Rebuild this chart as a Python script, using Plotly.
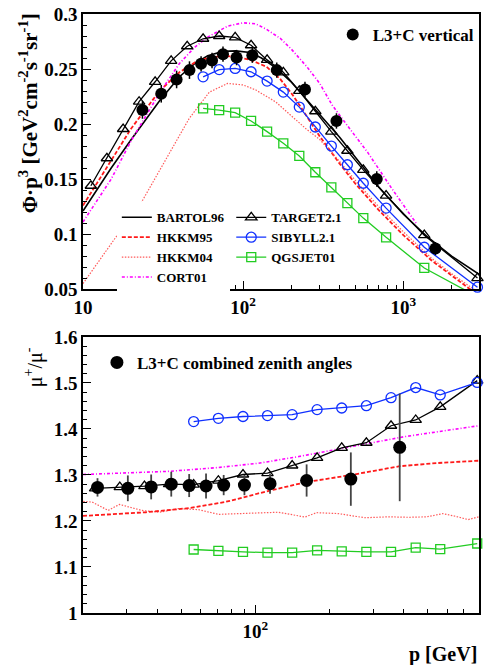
import numpy as np
import plotly.graph_objects as go

# ---------------- data : top panel (flux * p^3) ----------------
p_vert = [23.5, 30.8, 38.4, 46.2, 54.6, 63.9, 74.8, 90.9, 114, 162, 243, 382, 682, 1585]
flux_vert = [0.2128, 0.2275, 0.2405, 0.249, 0.2547, 0.2577, 0.2635, 0.2604, 0.2626, 0.249, 0.2314, 0.2028, 0.150, 0.0868]
flux_err = [0.008, 0.008, 0.008, 0.008, 0.007, 0.007, 0.007, 0.007, 0.007, 0.007, 0.007, 0.007, 0.007, 0.006]
p_err_vert = [0, 0, 0, 0, 0, 0, 0, 0, 0, 0, 0, 0, 0, 135]

p_bartol = [10, 15, 20, 25, 30, 40, 50, 60, 75, 90, 110, 130, 160, 200, 250, 300, 400, 500, 700, 1000, 1400, 2000, 3000]
f_bartol = [0.121, 0.160, 0.186, 0.205, 0.221, 0.243, 0.255, 0.262, 0.266, 0.2665, 0.265, 0.260, 0.251, 0.238, 0.222, 0.209, 0.188, 0.170, 0.143, 0.118, 0.098, 0.080, 0.063]

p_hkkm95 = [10, 15, 20, 30, 40, 50, 60, 75, 90, 110, 140, 170, 200, 225, 250, 300, 400, 500, 700, 1000, 1500, 2000, 2600, 3000]
f_hkkm95 = [0.126, 0.167, 0.196, 0.230, 0.247, 0.256, 0.260, 0.262, 0.261, 0.2585, 0.252, 0.241, 0.228, 0.217, 0.207, 0.189, 0.164, 0.146, 0.122, 0.099, 0.076, 0.062, 0.050, 0.044]

p_hkkm04 = [10, 13, 16, 21.5, 26, 34.7, 46, 61.5, 80, 100, 120, 160, 200, 245, 300, 400, 500, 700, 1000, 1500, 2000, 2600, 3000]
f_hkkm04 = [0.055, 0.078, 0.097, 0.1206, 0.1417, 0.175, 0.205, 0.229, 0.2369, 0.2355, 0.2309, 0.220, 0.2075, 0.196, 0.186, 0.166, 0.149, 0.125, 0.102, 0.078, 0.064, 0.052, 0.046]

p_cort = [10, 15, 20, 25, 30, 40, 50, 60, 80, 100, 120, 140, 170, 200, 250, 300, 360, 450, 600, 850, 1200]
f_cort = [0.111, 0.150, 0.185, 0.209, 0.228, 0.255, 0.270, 0.279, 0.289, 0.292, 0.291, 0.286, 0.278, 0.268, 0.252, 0.237, 0.217, 0.198, 0.174, 0.141, 0.110]

p_target = [11.2, 14.1, 17.8, 22.4, 28.2, 35.5, 44.7, 56.2, 70.8, 89.1, 112, 141, 178, 224, 282, 355, 447, 562, 780, 1350, 2900]
f_target = [0.1439, 0.1689, 0.1955, 0.2203, 0.2384, 0.2574, 0.2707, 0.2775, 0.2800, 0.2788, 0.2716, 0.2583, 0.2470, 0.2302, 0.2116, 0.1931, 0.1757, 0.1584, 0.1350, 0.0990, 0.0600]

p_mc = [56.2, 70.8, 89.1, 112, 141, 178, 224, 282, 355, 447, 562, 780, 1350, 2900]
f_sibyll = [0.2429, 0.2495, 0.2505, 0.2475, 0.239, 0.2290, 0.2154, 0.1973, 0.180, 0.163, 0.1462, 0.1236, 0.088, 0.0517]
f_qgsjet = [0.2142, 0.2127, 0.2103, 0.2028, 0.1931, 0.1825, 0.171, 0.1562, 0.1424, 0.1281, 0.1145, 0.097, 0.0692, 0.043]

# ---------------- data : bottom panel (mu+/mu-) ----------------
p_ratio = [22.9, 30.4, 37.8, 45.6, 53.9, 63.1, 74.4, 90.3, 114.7, 161.4, 243.9, 385]
ratio = [1.273, 1.271, 1.274, 1.280, 1.277, 1.276, 1.278, 1.278, 1.281, 1.288, 1.291, 1.360]
ratio_err = [0.020, 0.028, 0.027, 0.027, 0.025, 0.027, 0.022, 0.022, 0.022, 0.035, 0.058, 0.117]

p_target_r = [22.4, 28.2, 35.5, 44.7, 56.2, 70.8, 89.1, 112, 141, 178, 224, 282, 355, 447, 562, 794]
r_target = [1.271, 1.2736, 1.2757, 1.280, 1.279, 1.2875, 1.301, 1.304, 1.3206, 1.337, 1.359, 1.370, 1.407, 1.4195, 1.448, 1.505]

p_mc_r = [56.2, 70.8, 89.1, 112, 141, 178, 224, 282, 355, 447, 562, 794]
r_sibyll = [1.416, 1.423, 1.427, 1.429, 1.431, 1.442, 1.4455, 1.4505, 1.468, 1.490, 1.474, 1.501]
r_qgsjet = [1.138, 1.135, 1.133, 1.131, 1.131, 1.136, 1.134, 1.133, 1.133, 1.142, 1.139, 1.151]

p_cort_r = [20, 30, 45, 70, 103, 150, 200, 300, 400, 600, 806]
r_cort = [1.301, 1.304, 1.308, 1.316, 1.3255, 1.340, 1.353, 1.370, 1.383, 1.397, 1.407]

p_hkkm95_r = [20, 36, 54, 75, 85, 103, 159, 245, 385, 550, 806]
r_hkkm95 = [1.211, 1.219, 1.228, 1.241, 1.248, 1.260, 1.284, 1.300, 1.319, 1.326, 1.331]

p_hkkm04_r = [19.5, 21.8, 25.3, 28.1, 34.6, 40.9, 48.8, 58.8, 70.8, 90.8, 124, 159, 177, 217, 278, 345, 420, 496, 576, 650, 730, 806]
r_hkkm04 = [1.243, 1.241, 1.223, 1.236, 1.223, 1.219, 1.227, 1.2246, 1.2144, 1.217, 1.219, 1.2086, 1.218, 1.216, 1.207, 1.209, 1.208, 1.209, 1.216, 1.210, 1.203, 1.209]

# ---------------- style ----------------
FONT = "Liberation Serif"
RED = "#ff1a1a"
RED_LIGHT = "#ff5a5a"
MAG = "#ff00ff"
BLUE = "#1030ff"
GREEN = "#22cc22"

fig = go.Figure()

leg_font = dict(family=FONT, size=13, color="black", weight="bold")

# top panel
fig.add_trace(go.Scatter(x=p_bartol, y=f_bartol, mode="lines", name="BARTOL96",
                         line=dict(color="black", width=1.6), legend="legend", xaxis="x", yaxis="y"))
fig.add_trace(go.Scatter(x=p_hkkm95, y=f_hkkm95, mode="lines", name="HKKM95",
                         line=dict(color=RED, width=1.8, dash="4px,2px"), legend="legend", xaxis="x", yaxis="y"))
fig.add_trace(go.Scatter(x=p_hkkm04, y=f_hkkm04, mode="lines", name="HKKM04",
                         line=dict(color=RED_LIGHT, width=1.2, dash="1.5px,1.5px"), legend="legend", xaxis="x", yaxis="y"))
fig.add_trace(go.Scatter(x=p_cort, y=f_cort, mode="lines", name="CORT01",
                         line=dict(color=MAG, width=1.6, dash="3px,2px,1px,2px"), legend="legend", xaxis="x", yaxis="y"))
fig.add_trace(go.Scatter(x=p_target, y=f_target, mode="lines+markers", name="TARGET2.1",
                         line=dict(color="black", width=1.3),
                         marker=dict(symbol="triangle-up-open", size=10, color="black", line=dict(width=1.3)),
                         cliponaxis=False, legend="legend2", xaxis="x", yaxis="y"))
fig.add_trace(go.Scatter(x=p_mc, y=f_sibyll, mode="lines+markers", name="SIBYLL2.1",
                         line=dict(color=BLUE, width=1.3),
                         marker=dict(symbol="circle-open", size=10, color=BLUE, line=dict(width=1.3)),
                         cliponaxis=False, legend="legend2", xaxis="x", yaxis="y"))
fig.add_trace(go.Scatter(x=p_mc, y=f_qgsjet, mode="lines+markers", name="QGSJET01",
                         line=dict(color=GREEN, width=1.3),
                         marker=dict(symbol="square-open", size=9, color=GREEN, line=dict(width=1.3)),
                         legend="legend2", xaxis="x", yaxis="y"))
fig.add_trace(go.Scatter(x=p_vert, y=flux_vert, mode="markers", name="L3+C vertical",
                         marker=dict(symbol="circle", size=12, color="black"),
                         error_y=dict(type="data", array=flux_err, color="black", thickness=1.5, width=0),
                         error_x=dict(type="data", array=p_err_vert, color="black", thickness=1.5, width=0),
                         legend="legend3", xaxis="x", yaxis="y"))

# bottom panel
fig.add_trace(go.Scatter(x=p_hkkm04_r, y=r_hkkm04, mode="lines", showlegend=False,
                         line=dict(color=RED_LIGHT, width=1.2, dash="1.5px,1.5px"), xaxis="x2", yaxis="y2"))
fig.add_trace(go.Scatter(x=p_hkkm95_r, y=r_hkkm95, mode="lines", showlegend=False,
                         line=dict(color=RED, width=1.8, dash="4px,2px"), xaxis="x2", yaxis="y2"))
fig.add_trace(go.Scatter(x=p_cort_r, y=r_cort, mode="lines", showlegend=False,
                         line=dict(color=MAG, width=1.6, dash="3px,2px,1px,2px"), xaxis="x2", yaxis="y2"))
fig.add_trace(go.Scatter(x=p_target_r, y=r_target, mode="lines+markers", showlegend=False,
                         line=dict(color="black", width=1.3),
                         marker=dict(symbol="triangle-up-open", size=10, color="black", line=dict(width=1.3)),
                         cliponaxis=False, xaxis="x2", yaxis="y2"))
fig.add_trace(go.Scatter(x=p_mc_r, y=r_sibyll, mode="lines+markers", showlegend=False,
                         line=dict(color=BLUE, width=1.3),
                         marker=dict(symbol="circle-open", size=10, color=BLUE, line=dict(width=1.3)),
                         cliponaxis=False, xaxis="x2", yaxis="y2"))
fig.add_trace(go.Scatter(x=p_mc_r, y=r_qgsjet, mode="lines+markers", showlegend=False,
                         line=dict(color=GREEN, width=1.3),
                         marker=dict(symbol="square-open", size=9, color=GREEN, line=dict(width=1.3)),
                         cliponaxis=False, xaxis="x2", yaxis="y2"))
fig.add_trace(go.Scatter(x=p_ratio, y=ratio, mode="markers", name="L3+C combined zenith angles",
                         marker=dict(symbol="circle", size=13, color="black"),
                         error_y=dict(type="data", array=ratio_err, color="#444444", thickness=1.8, width=0),
                         legend="legend4", xaxis="x2", yaxis="y2"))

# ---------------- layout ----------------
L, R, T, B = 83, 4, 12, 52
W, H = 485, 665
PW, PH = W - L - R, H - T - B

def px_x(px):
    return (px - L) / PW

def px_y(py):
    return (H - B - py) / PH

tick_font = dict(family=FONT, size=19, color="black", weight="bold")
axis_common = dict(showline=True, linecolor="black", linewidth=1.5, mirror=True,
                   showgrid=False, zeroline=False, ticks="inside", tickcolor="black",
                   tickwidth=1.2, tickfont=tick_font)

top_minor = [20, 30, 40, 50, 60, 70, 80, 90, 200, 300, 400, 500, 600, 700, 800, 900, 2000]
bot_minor = [30, 40, 50, 60, 70, 80, 90, 200, 300, 400, 500, 600, 700]

fig.update_layout(
    width=W, height=H,
    margin=dict(l=L, r=R, t=T, b=B),
    paper_bgcolor="white", plot_bgcolor="white",
    font=dict(family=FONT, color="black"),
    xaxis=dict(type="log", range=[1, 3.472], domain=[0, 1], anchor="y",
               tickvals=[10, 100, 1000], ticktext=["10", "10<sup>2</sup>", "10<sup>3</sup>"],
               ticklen=8, minor=dict(tickvals=top_minor, ticks="inside", ticklen=4, tickcolor="black", tickwidth=1),
               **axis_common),
    yaxis=dict(range=[0.05, 0.3], domain=[px_y(288), 1], anchor="x",
               tickvals=[0.05, 0.1, 0.15, 0.2, 0.25, 0.3], ticktext=["0.05", "0.1", "0.15", "0.2", "0.25", "0.3"],
               ticklen=8, minor=dict(dtick=0.01, ticks="inside", ticklen=4, tickcolor="black", tickwidth=1),
               **axis_common),
    xaxis2=dict(type="log", range=[np.log10(20), 2.907], domain=[0, 1], anchor="y2",
                tickvals=[100], ticktext=["10<sup>2</sup>"],
                ticklen=8, minor=dict(tickvals=bot_minor, ticks="inside", ticklen=4, tickcolor="black", tickwidth=1),
                **axis_common),
    yaxis2=dict(range=[1.0, 1.6], domain=[0, px_y(336)], anchor="x2",
                tickvals=[1.0, 1.1, 1.2, 1.3, 1.4, 1.5, 1.6], ticktext=["1", "1.1", "1.2", "1.3", "1.4", "1.5", "1.6"],
                ticklen=8, minor=dict(dtick=0.02, ticks="inside", ticklen=4, tickcolor="black", tickwidth=1),
                **axis_common),
    legend=dict(x=px_x(117), y=px_y(201), xanchor="left", yanchor="top", bgcolor="white",
                borderwidth=0, font=leg_font, itemwidth=30, tracegroupgap=0),
    legend2=dict(x=px_x(232), y=px_y(201), xanchor="left", yanchor="top", bgcolor="rgba(0,0,0,0)",
                 borderwidth=0, font=leg_font, itemwidth=30, tracegroupgap=0),
    legend3=dict(x=px_x(334), y=px_y(15), xanchor="left", yanchor="top", bgcolor="rgba(0,0,0,0)",
                 borderwidth=0, font=dict(family=FONT, size=17, color="black", weight="bold"), itemwidth=30),
    legend4=dict(x=px_x(97), y=px_y(344), xanchor="left", yanchor="top", bgcolor="rgba(0,0,0,0)",
                 borderwidth=0, font=dict(family=FONT, size=17, color="black", weight="bold"), itemwidth=30),
    annotations=[
        dict(text="<b>Φ·p<sup>3</sup> [GeV<sup>2</sup>cm<sup>-2</sup>s<sup>-1</sup>sr<sup>-1</sup>]</b>",
             xref="paper", yref="paper", x=px_x(28), y=px_y(9), xanchor="center", yanchor="top",
             textangle=-90, showarrow=False, font=dict(family=FONT, size=21, color="black")),
        dict(text="μ<sup>+</sup>/μ<sup>-</sup>",
             xref="paper", yref="paper", x=px_x(34), y=px_y(344), xanchor="center", yanchor="top",
             textangle=-90, showarrow=False, font=dict(family=FONT, size=20, color="black")),
        dict(text="<b>p [GeV]</b>", xref="paper", yref="paper", x=px_x(481), y=px_y(655),
             xanchor="right", yanchor="middle", showarrow=False,
             font=dict(family=FONT, size=20, color="black")),
    ],
)

fig.write_html("out.html")
